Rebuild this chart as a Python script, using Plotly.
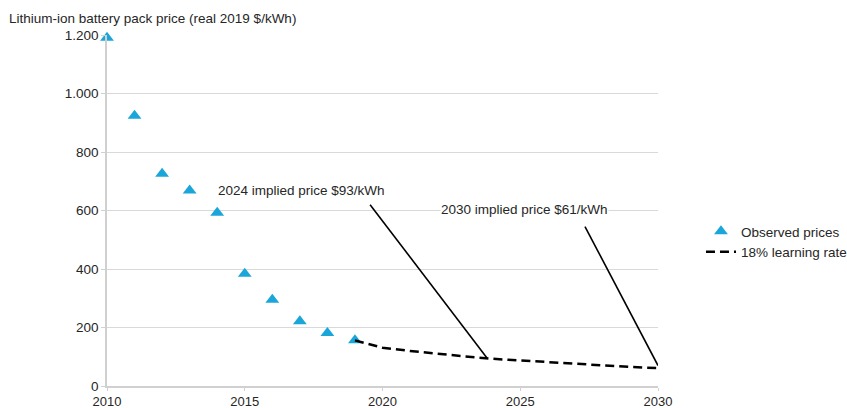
import plotly.graph_objects as go

# Data
obs_years = [2010, 2011, 2012, 2013, 2014, 2015, 2016, 2017, 2018, 2019]
obs_prices = [1191, 924, 726, 668, 592, 384, 295, 221, 181, 156]

lr_years = [2019, 2020, 2021, 2022, 2023, 2024, 2025, 2026, 2027, 2028, 2029, 2030]
lr_prices = [156, 131, 120, 110, 101, 93, 87, 81, 75, 70, 65, 61]

x_ticks = [2010, 2015, 2020, 2025, 2030]
y_ticks = [0, 200, 400, 600, 800, 1000, 1200]

ann_texts = ["2024 implied price $93/kWh", "2030 implied price $61/kWh"]
ann_tips = [(2023.8, 95), (2030, 70)]

FONT = "Liberation Sans, Arial, sans-serif"
TXT = "#262626"
FS = 13.5

fig = go.Figure()
fig.add_trace(go.Scatter(
    x=obs_years, y=obs_prices, mode="markers", name="Observed prices",
    marker=dict(symbol="triangle-up", size=12, color="#1ba6d9"),
    cliponaxis=False,
))
fig.add_trace(go.Scatter(
    x=lr_years, y=lr_prices, mode="lines", name="18% learning rate",
    line=dict(color="black", width=2.5, dash="9px,5px"),
    cliponaxis=False,
))

# leader lines
tails = [(2019.55, 620), (2027.35, 545)]
for (tx, ty), (hx, hy) in zip(tails, ann_tips):
    fig.add_shape(type="line", xref="x", yref="y", x0=tx, y0=ty, x1=hx, y1=hy,
                  line=dict(color="black", width=1.6))

fig.add_annotation(text=ann_texts[0], xref="x", yref="y", x=2013.95, y=670,
                   xanchor="left", yanchor="middle", showarrow=False,
                   font=dict(family=FONT, size=FS, color=TXT))
fig.add_annotation(text=ann_texts[1], xref="x", yref="y", x=2022.1, y=605,
                   xanchor="left", yanchor="middle", showarrow=False,
                   bgcolor="white", borderpad=0,
                   font=dict(family=FONT, size=FS, color=TXT))

fig.add_annotation(text="Lithium-ion battery pack price (real 2019 $/kWh)",
                   xref="paper", yref="paper", x=-0.1815, y=1.048,
                   xanchor="left", yanchor="middle", showarrow=False,
                   font=dict(family=FONT, size=FS, color=TXT))

fig.update_layout(
    template="none",
    width=847, height=408,
    margin=dict(l=107, r=189, t=35, b=22, autoexpand=False),
    paper_bgcolor="white", plot_bgcolor="white",
    separators=",.",
    font=dict(family=FONT, size=FS, color=TXT),
    showlegend=True,
    legend=dict(xref="container", yref="container", x=0.8276, y=0.4706,
                xanchor="left", yanchor="top",
                bgcolor="rgba(0,0,0,0)", font=dict(size=FS, color=TXT)),
    xaxis=dict(range=[2010, 2030], tickvals=x_ticks, showgrid=False,
               showline=True, linecolor="#d0d0d0", linewidth=1.5,
               ticks="outside", ticklen=3, tickcolor="#d0d0d0",
               zeroline=False, automargin=False,
               tickfont=dict(size=13, color=TXT)),
    yaxis=dict(range=[0, 1200], tickvals=y_ticks, tickformat=",d",
               showgrid=True, gridcolor="#d9d9d9", gridwidth=1,
               showline=True, linecolor="#d0d0d0", linewidth=1.5,
               ticks="outside", ticklen=4, tickcolor="#d0d0d0",
               zeroline=False, automargin=False,
               tickfont=dict(size=FS, color=TXT)),
)

fig.write_html("out.html", config={"displayModeBar": False},
               post_script="document.body.style.margin='0';")
